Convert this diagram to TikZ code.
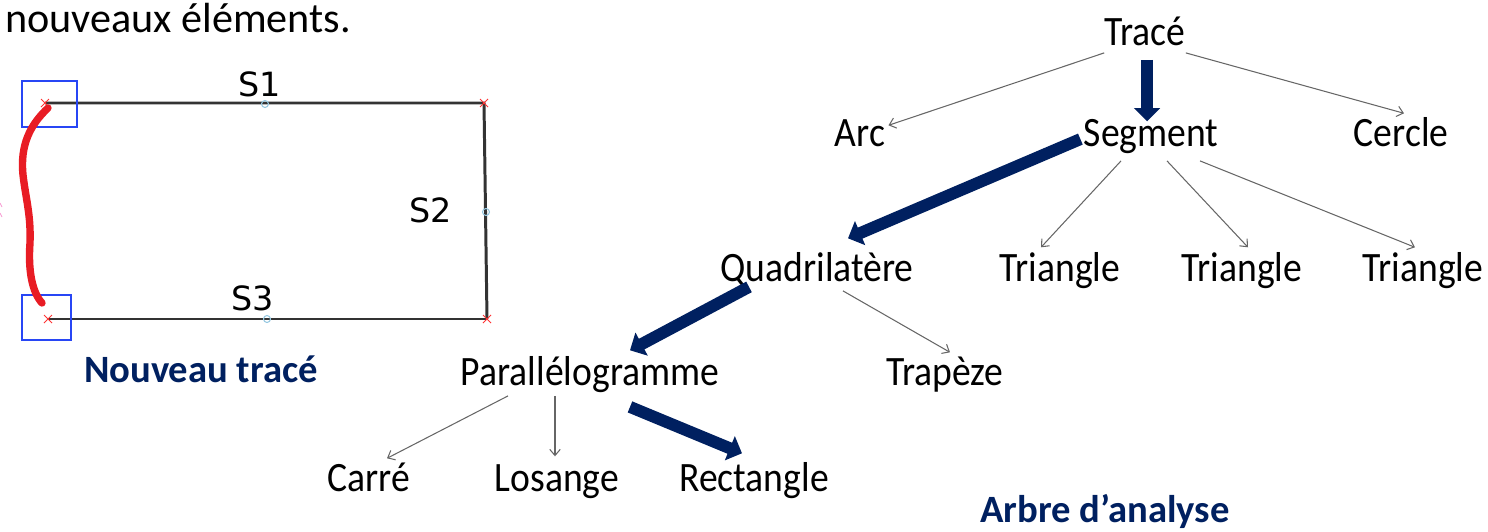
\documentclass[tikz,border=0pt]{standalone}
\usepackage{fontspec}
\usepackage{graphicx}
\setmainfont{Carlito}
\newfontfamily\sketchfont{DejaVu Sans}
\usetikzlibrary{arrows.meta,calc}
\definecolor{navy}{RGB}{0,32,96}
\definecolor{penred}{RGB}{232,28,36}
\definecolor{markblue}{RGB}{40,70,245}
\definecolor{midblue}{RGB}{150,200,225}
\newcommand{\treefont}{\fontsize{23.8}{26}\selectfont}
\newcommand{\narrow}[1]{\scalebox{0.9}[1]{#1}}
\tikzset{
  lbl/.style={font=\treefont, inner sep=0pt, text height=15pt, text depth=4.3pt, anchor=base},
  caption/.style={font=\fontsize{22}{24}\selectfont\bfseries, text=navy, inner sep=0pt, anchor=base},
  seglbl/.style={font=\sketchfont\fontsize{19}{22}\selectfont, inner sep=0pt},
  branch/.style={draw=black!60, line width=0.6pt, -{Straight Barb[length=3.5pt,width=6pt]}},
  mainpath/.style={draw=navy, line width=6.8pt, -{Triangle[length=7.5pt,width=14.5pt]}},
  corner/.style={draw=markblue, line width=1.4pt},
  edge/.style={draw=black!80, line width=1.7pt},
  cross/.style={draw=red!80, line width=0.5pt},
  midmark/.style={draw=midblue, line width=0.6pt}
}
\begin{document}
\begin{tikzpicture}[x=0.02cm,y=-0.02cm]
\useasboundingbox (0,0) rectangle (1488,531);
% texte du haut
\node[font=\fontsize{24}{26}\selectfont, inner sep=0pt, anchor=base west] (intro) at (5,32) {nouveaux éléments.};
% nouveau trace
\coordinate (p1) at (45,103);
\coordinate (p2) at (484,103);
\coordinate (p3) at (487,319);
\coordinate (p4) at (48,319);
\draw[edge] (p1) -- (p2) -- (p3);
\draw[edge] (p4) -- (p3);
\foreach \c in {p1,p2,p3,p4}{
  \draw[cross] ($(\c)+(-4,-4)$) -- ($(\c)+(4,4)$) ($(\c)+(-4,4)$) -- ($(\c)+(4,-4)$);
}
\draw[midmark] (265,104) circle (3.5);
\draw[midmark] (267,319) circle (3.5);
\draw[midmark] (486,212) circle (3.5);
\node[seglbl] (s1) at (260,84) {S1};
\node[seglbl] (s2) at (431,210) {S2};
\node[seglbl] (s3) at (253,298) {S3};
\draw[corner] (22,81) rectangle (77,127);
\draw[corner] (22,295) rectangle (71,340);
\draw[penred, line width=4.2pt, line cap=round] (48,108) .. controls (30,125) and (20,145) .. (23,175)
  .. controls (26,200) and (31,215) .. (30,243) .. controls (28,270) and (32,292) .. (42,303);
\draw[draw=magenta!40, line width=0.5pt] (0,203) -- (2,207) (0,213) -- (2,217);
\node[caption] (newtrace) at (201,382) {Nouveau tracé};
% arbre
\node[lbl] (trace) at (1145,45) {\narrow{Tracé}};
\node[lbl] (arc) at (860,146) {\narrow{Arc}};
\node[lbl] (seg) at (1151,146) {\narrow{Segment}};
\node[lbl] (cercle) at (1401,146) {\narrow{Cercle}};
\node[lbl] (quad) at (817,281) {\narrow{Quadrilatère}};
\node[lbl] (tri1) at (1060,281) {\narrow{Triangle}};
\node[lbl] (tri2) at (1242,281) {\narrow{Triangle}};
\node[lbl] (tri3) at (1423,281) {\narrow{Triangle}};
\node[lbl] (paral) at (590,385) {\narrow{Parallélogramme}};
\node[lbl] (trap) at (945,385) {\narrow{Trapèze}};
\node[lbl] (carre) at (369,491) {\narrow{Carré}};
\node[lbl] (losange) at (557,491) {\narrow{Losange}};
\node[lbl] (rect) at (754,491) {\narrow{Rectangle}};
\node[caption] (tree) at (1105,522) {Arbre d’analyse};
% fleches fines
\draw[branch] (trace.south west) -- ($(arc.north east)+(3,6)$);
\draw[branch] (trace.south east) -- ($(cercle.north)+(3,-6)$);
\draw[branch] ($(seg.south)+(-30,7)$) -- ($(tri1.north)+(-19,-7)$);
\draw[branch] ($(seg.south)+(16,7)$) -- ($(tri2.north)+(6,-7)$);
\draw[branch] ($(seg.south)+(49,7)$) -- ($(tri3.north)+(-8,-7)$);
\draw[branch] ($(quad.south)+(26,2)$) -- ($(trap.north)+(5,-6)$);
\draw[branch] ($(paral.south)+(-82,3)$) -- ($(carre.north)+(18,-6)$);
\draw[branch] ($(paral.south)+(-35,3)$) -- ($(losange.north)+(-2,-8)$);
% chemin d'analyse
\draw[mainpath] ($(trace.south)+(2,7)$) -- ($(seg.north)+(-4,2)$);
\draw[mainpath] ($(seg.west)+(-3,2.5)$) -- ($(quad.north)+(31,-16)$);
\draw[mainpath] ($(quad.south)+(-68,-2)$) -- ($(paral.north)+(40,-8)$);
\draw[mainpath] ($(paral.south)+(40,14)$) -- ($(rect.north)+(-12,-11)$);
\end{tikzpicture}
\end{document}
